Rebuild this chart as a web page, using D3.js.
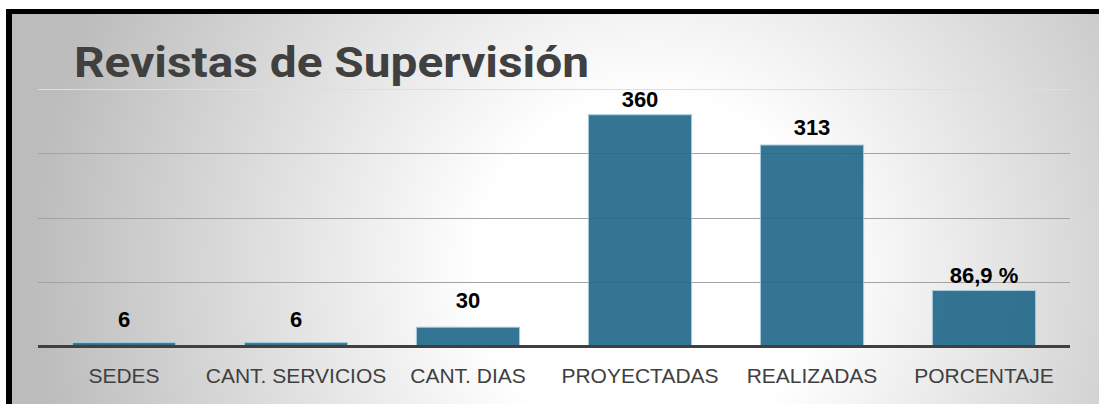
<!DOCTYPE html>
<html>
<head>
<meta charset="UTF-8">
<title>Revistas de Supervisión</title>
<script src="https://cdn.jsdelivr.net/npm/d3@7"></script>
<style>
  html, body { margin: 0; padding: 0; background: #fff; overflow: hidden; }
</style>
</head>
<body>
<script>
// chart data
var categories = ["SEDES", "CANT. SERVICIOS", "CANT. DIAS", "PROYECTADAS", "REALIZADAS", "PORCENTAJE"];
var values = [6, 6, 30, 360, 313, 86.9];
var valueLabels = ["6", "6", "30", "360", "313", "86,9 %"];
var gridTicks = [100, 200, 300, 400];
var title = "Revistas de Supervisión";

var w = 1099, h = 404;

var svg = d3.select("body").append("svg")
    .attr("width", w)
    .attr("height", h);

var defs = svg.append("defs");
var grad = defs.append("radialGradient")
    .attr("id", "bg")
    .attr("gradientUnits", "userSpaceOnUse")
    .attr("cx", 650).attr("cy", 270).attr("r", 620);
grad.append("stop").attr("offset", "0").attr("stop-color", "#ffffff");
grad.append("stop").attr("offset", "0.28").attr("stop-color", "#ffffff");
grad.append("stop").attr("offset", "1").attr("stop-color", "#bcbcbc");

// frame: grey gradient panel with black top / left edge
svg.append("rect")
    .attr("x", 6).attr("y", 9)
    .attr("width", w).attr("height", h)
    .attr("fill", "url(#bg)");
svg.append("rect").attr("x", 6).attr("y", 9).attr("width", w).attr("height", 5).attr("fill", "#000");
svg.append("rect").attr("x", 6).attr("y", 9).attr("width", 6).attr("height", h).attr("fill", "#000");

svg.append("text")
    .attr("x", 74)
    .attr("y", 77)
    .attr("font-family", "Roboto, sans-serif")
    .attr("font-weight", "bold")
    .attr("font-size", 43)
    .attr("textLength", 515)
    .attr("lengthAdjust", "spacingAndGlyphs")
    .attr("fill", "#404040")
    .text(title);

var x = d3.scaleBand()
    .domain(categories)
    .range([38, 1070])
    .paddingInner(0.4)
    .paddingOuter(0.2);

var y = d3.scaleLinear()
    .domain([0, 400])
    .range([346.5, 89]);

// gridlines
svg.selectAll("line.grid")
    .data(gridTicks)
    .enter().append("line")
    .attr("class", "grid")
    .attr("x1", 38).attr("x2", 1070)
    .attr("y1", function(d) { return Math.round(y(d)) + 0.5; })
    .attr("y2", function(d) { return Math.round(y(d)) + 0.5; })
    .style("stroke", function(d) { return d === 400 ? "#dedede" : "#a3a3a3"; })
    .style("stroke-width", 1);

// bars
svg.selectAll("rect.bar")
    .data(values)
    .enter().append("rect")
    .attr("class", "bar")
    .attr("x", function(d, i) { return x(categories[i]); })
    .attr("y", function(d) { return y(d); })
    .attr("width", x.bandwidth())
    .attr("height", function(d) { return y(0) - y(d); })
    .style("fill", "#1f6688")
    .style("fill-opacity", 0.9)
    .style("stroke", "#a9cbdb")
    .style("stroke-width", 1);

// axis line
svg.append("line")
    .attr("x1", 38).attr("x2", 1070)
    .attr("y1", 346.5).attr("y2", 346.5)
    .style("stroke", "#404040")
    .style("stroke-width", 3);

// labels were nudged by hand in the original, small bars sit higher
var nudge = [8, 8, 11, 0, 2, 0];
svg.selectAll("text.val")
    .data(values)
    .enter().append("text")
    .attr("class", "val")
    .attr("x", function(d, i) { return x(categories[i]) + x.bandwidth() / 2; })
    .attr("y", function(d, i) { return y(d) - 8 - nudge[i]; })
    .attr("text-anchor", "middle")
    .attr("font-family", "'Liberation Sans', Arial, sans-serif")
    .attr("font-weight", "bold")
    .attr("font-size", 22)
    .attr("fill", "#000")
    .text(function(d, i) { return valueLabels[i]; });

svg.selectAll("text.cat")
    .data(categories)
    .enter().append("text")
    .attr("class", "cat")
    .attr("x", function(d) { return x(d) + x.bandwidth() / 2; })
    .attr("y", 383)
    .attr("text-anchor", "middle")
    .attr("font-family", "'Liberation Sans', Arial, sans-serif")
    .attr("font-size", 21)
    .attr("fill", "#404040")
    .text(function(d) { return d; });
</script>
</body>
</html>
